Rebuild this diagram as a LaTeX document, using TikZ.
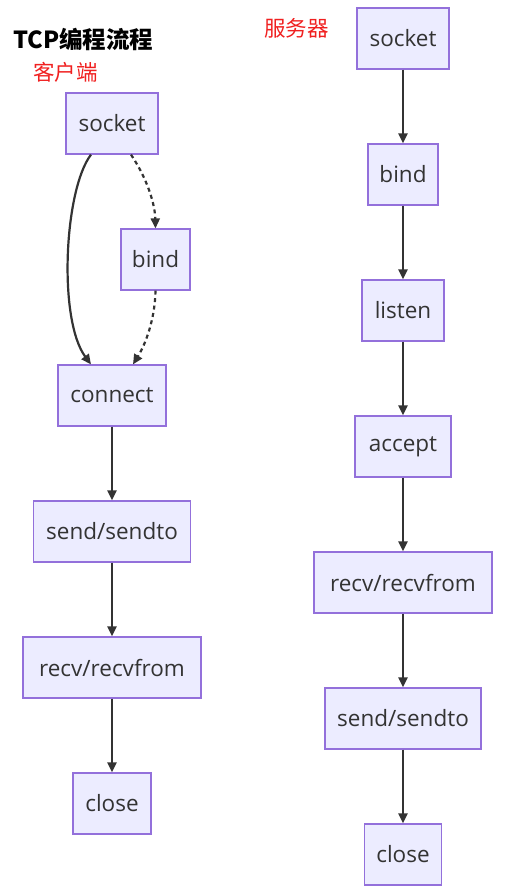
\documentclass[tikz,border=0pt]{standalone}
\usepackage{fontspec}
\setmainfont{Open Sans}
\newfontfamily\cjk{Noto Sans CJK SC}
\usetikzlibrary{arrows.meta}
\definecolor{nodefill}{HTML}{ECECFF}
\definecolor{nodeborder}{HTML}{9370DB}
\definecolor{edgecol}{HTML}{333333}
\definecolor{labred}{HTML}{F02020}
\tikzset{
  box/.style={draw=nodeborder, fill=nodefill, line width=1.2pt, inner sep=0pt,
    minimum height=61pt, text=edgecol, font=\fontsize{22.5}{26}\selectfont},
  flow/.style={draw=edgecol, line width=2.2pt, -{Triangle[length=10pt,width=9pt]}},
  dflow/.style={flow, dash pattern=on 4pt off 3.5pt},
  redlab/.style={text=labred, font=\cjk\fontsize{21.5}{25}\selectfont, inner sep=0pt},
}
\begin{document}
\begin{tikzpicture}[x=1pt,y=-1pt]
\useasboundingbox (0,0) rectangle (524,894);
% titles
\node[anchor=west, inner sep=0pt, font=\cjk\bfseries\fontsize{23.5}{27}\selectfont] (title) at (13,39) {TCP编程流程};
\node[redlab] (client) at (65.5,72) {客户端};
\node[redlab] (server) at (296.5,28) {服务器};
% client
\node[box, minimum width=92pt] (cs) at (112,123.5) {socket};
\node[box, minimum width=69pt] (cb) at (155.5,259.5) {bind};
\node[box, minimum width=108pt] (cc) at (112,395.5) {connect};
\node[box, minimum width=157pt] (csd) at (112,531.5) {send/sendto};
\node[box, minimum width=178pt] (cr) at (112,667.5) {recv/recvfrom};
\node[box, minimum width=78pt] (ccl) at (112,803.5) {close};
% server
\node[box, minimum width=92pt] (ss) at (403,38.5) {socket};
\node[box, minimum width=70pt] (sb) at (403,174.5) {bind};
\node[box, minimum width=82pt] (sl) at (403,310.5) {listen};
\node[box, minimum width=96pt] (sa) at (403,446.5) {accept};
\node[box, minimum width=178pt] (sr) at (403,582.5) {recv/recvfrom};
\node[box, minimum width=156pt] (ssd) at (403,718.5) {send/sendto};
\node[box, minimum width=77pt] (scl) at (403,854.5) {close};
% client edges
\draw[flow] ([xshift=-21pt]cs.south) .. controls (64,190) and (58,320) .. ([xshift=-21pt]cc.north);
\draw[dflow] ([xshift=19pt]cs.south) .. controls (148,180) and (155,205) .. (cb.north);
\draw[dflow] (cb.south) .. controls (155,320) and (145,345) .. ([xshift=21pt]cc.north);
\draw[flow] (cc) -- (csd);
\draw[flow] (csd) -- (cr);
\draw[flow] (cr) -- (ccl);
% server edges
\draw[flow] (ss) -- (sb);
\draw[flow] (sb) -- (sl);
\draw[flow] (sl) -- (sa);
\draw[flow] (sa) -- (sr);
\draw[flow] (sr) -- (ssd);
\draw[flow] (ssd) -- (scl);
\end{tikzpicture}
\end{document}
